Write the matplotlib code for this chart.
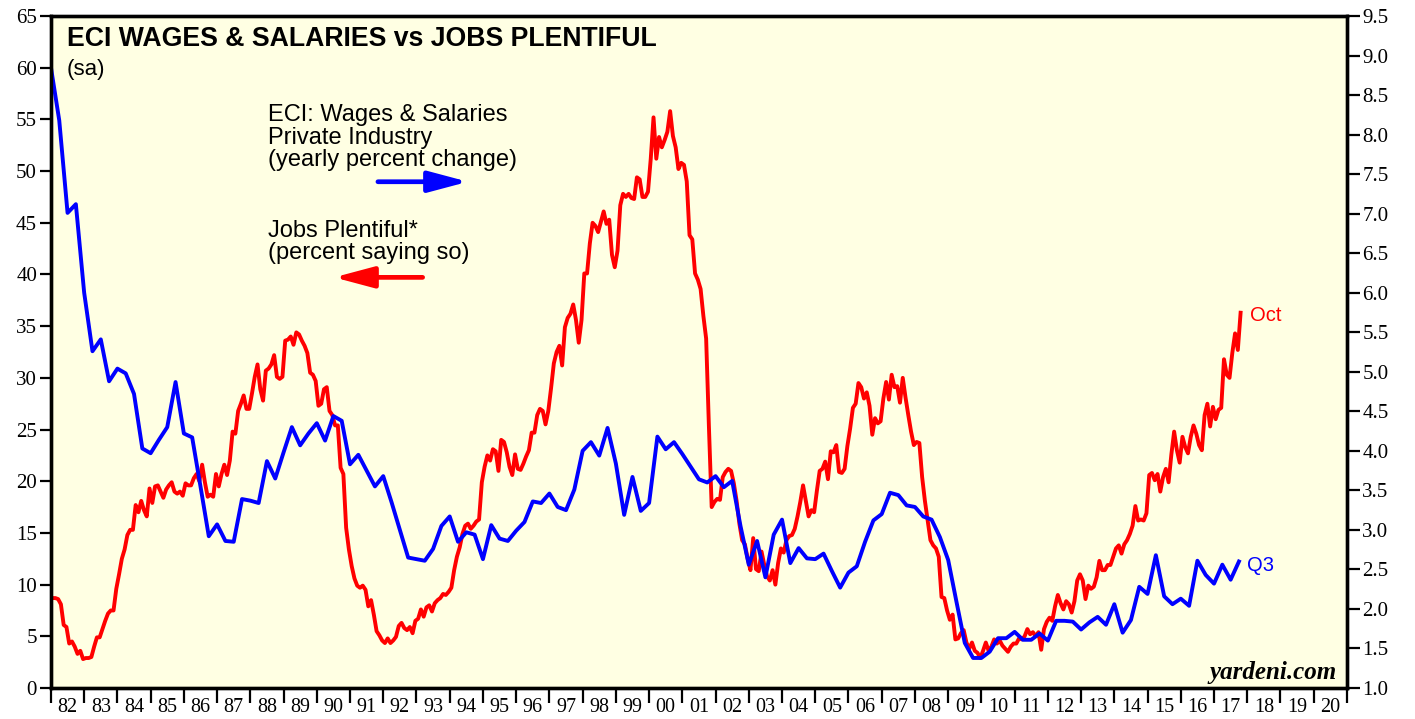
import numpy as np
import matplotlib.pyplot as plt

# Jobs Plentiful (percent saying so), monthly, Jan 1982 - Oct 2017
jobs_plentiful = [
    8.7, 8.7, 8.6, 8.1, 6.1, 5.9, 4.3, 4.5, 4.0, 3.3, 3.6, 2.8,          # 82
    2.9, 2.9, 3.0, 4.0, 4.9, 4.9, 5.7, 6.5, 7.2, 7.5, 7.5, 9.6,          # 83
    11.0, 12.5, 13.4, 14.8, 15.3, 15.3, 17.7, 17.0, 18.1, 17.2, 16.6, 19.3,  # 84
    17.9, 19.5, 19.6, 19.0, 18.4, 19.2, 19.6, 19.9, 19.0, 18.8, 19.0, 18.6,  # 85
    19.8, 19.6, 19.6, 20.3, 20.7, 20.0, 21.6, 19.9, 18.5, 18.7, 18.5, 20.7,  # 86
    19.5, 20.7, 21.6, 20.6, 22.0, 24.8, 24.6, 26.8, 27.5, 28.3, 27.0, 27.0,  # 87
    28.5, 30.1, 31.3, 28.9, 27.8, 30.7, 30.9, 31.3, 32.2, 30.1, 29.9, 30.1,  # 88
    33.6, 33.7, 34.0, 33.2, 34.4, 34.2, 33.6, 33.1, 32.4, 30.5, 30.3, 29.7,  # 89
    27.3, 27.5, 28.9, 29.1, 26.8, 26.4, 25.4, 25.4, 21.3, 20.7, 15.5, 13.4,  # 90
    11.8, 10.6, 9.9, 9.7, 9.9, 9.5, 7.9, 8.5, 7.1, 5.5, 5.1, 4.6,        # 91
    4.35, 4.8, 4.35, 4.6, 4.95, 6.0, 6.3, 5.8, 5.6, 5.9, 5.3, 6.5,       # 92
    6.7, 7.6, 6.9, 7.8, 8.0, 7.4, 8.2, 8.5, 8.7, 9.1, 9.0, 9.3,          # 93
    9.7, 11.4, 12.7, 13.6, 14.9, 15.7, 15.9, 15.4, 15.7, 16.1, 16.3, 19.9,   # 94
    21.4, 22.5, 22.0, 23.1, 22.9, 21.0, 24.0, 23.8, 22.8, 21.4, 20.6, 22.6,  # 95
    21.2, 21.1, 21.7, 22.4, 23.0, 24.7, 24.7, 26.4, 27.0, 26.8, 25.5, 26.8,  # 96
    29.0, 31.4, 32.5, 33.1, 31.2, 34.9, 35.8, 36.2, 37.1, 35.6, 33.4, 35.6,  # 97
    40.1, 40.1, 43.0, 45.0, 44.7, 44.1, 45.1, 46.1, 44.9, 45.3, 41.9, 40.7,  # 98
    42.3, 46.7, 47.8, 47.5, 47.8, 47.4, 47.3, 49.4, 49.2, 47.5, 47.5, 48.0,  # 99
    51.2, 55.2, 51.2, 53.3, 52.3, 53.0, 53.8, 55.8, 53.4, 52.3, 50.2, 50.8,  # 00
    50.6, 49.0, 43.8, 43.4, 40.1, 39.5, 38.6, 36.0, 33.8, 25.3, 17.5, 18.0,  # 01
    18.3, 18.2, 20.4, 20.9, 21.2, 21.0, 19.8, 18.1, 15.9, 14.3, 13.9, 12.5,  # 02
    11.4, 14.5, 11.5, 11.3, 13.2, 11.9, 10.8, 10.4, 11.4, 10.0, 12.1, 13.5,  # 03
    13.1, 14.3, 14.7, 14.8, 15.4, 16.6, 18.0, 19.6, 18.1, 16.6, 17.2, 17.0,  # 04
    19.1, 21.0, 21.2, 21.9, 20.2, 22.9, 22.8, 23.5, 20.9, 20.8, 21.2, 23.4,  # 05
    25.1, 27.1, 27.5, 29.5, 29.1, 28.0, 28.6, 27.3, 24.5, 26.1, 25.6, 25.8,  # 06
    28.0, 29.6, 27.9, 30.3, 29.1, 29.2, 27.6, 30.0, 28.1, 26.4, 24.8, 23.5,  # 07
    23.8, 23.7, 20.4, 18.1, 16.2, 14.3, 13.8, 13.5, 12.7, 8.8, 8.7, 7.5,     # 08
    6.6, 7.1, 4.7, 4.8, 5.3, 5.6, 4.4, 3.8, 4.4, 3.6, 3.4, 2.9,          # 09
    3.6, 4.4, 3.6, 4.0, 4.7, 4.3, 4.6, 4.1, 3.8, 3.5, 4.0, 4.3,          # 10
    4.3, 4.8, 4.7, 5.0, 5.7, 5.2, 5.4, 5.0, 5.4, 3.7, 5.7, 6.4,          # 11
    6.8, 6.5, 7.9, 9.0, 8.2, 7.6, 8.4, 8.1, 7.3, 8.4, 10.4, 11.0,        # 12
    10.4, 8.6, 9.9, 9.6, 9.8, 10.7, 12.3, 11.4, 11.4, 11.9, 11.9, 12.7,  # 13
    13.5, 13.8, 13.0, 13.9, 14.3, 14.9, 15.7, 17.6, 16.2, 16.3, 16.2, 16.9,  # 14
    20.6, 20.8, 20.1, 20.7, 19.0, 20.4, 21.2, 19.9, 22.6, 24.8, 23.0, 21.8,  # 15
    24.3, 23.3, 22.7, 24.3, 25.4, 24.6, 23.5, 23.0, 26.4, 27.5, 25.3, 27.2,  # 16
    26.0, 26.9, 27.1, 31.8, 30.3, 30.0, 32.4, 34.3, 32.7, 36.3,              # 17
]

# ECI wages & salaries, private industry (yearly % change), quarterly through Q3 2017
eci_wages = [
    8.85, 8.18, 7.01, 7.12,  # 82
    6.00, 5.26, 5.41, 4.88,  # 83
    5.04, 4.98, 4.72, 4.03,  # 84
    3.97, 4.14, 4.30, 4.87,  # 85
    4.22, 4.17, 3.55, 2.92,  # 86
    3.07, 2.86, 2.85, 3.39,  # 87
    3.37, 3.34, 3.87, 3.65,  # 88
    3.98, 4.30, 4.07, 4.22,  # 89
    4.35, 4.13, 4.44, 4.38,  # 90
    3.83, 3.95, 3.75, 3.55,  # 91
    3.68, 3.35, 3.00, 2.65,  # 92
    2.63, 2.61, 2.76, 3.05,  # 93
    3.17, 2.85, 2.97, 2.94,  # 94
    2.63, 3.06, 2.89, 2.86,  # 95
    2.99, 3.10, 3.36, 3.34,  # 96
    3.46, 3.29, 3.25, 3.51,  # 97
    4.00, 4.11, 3.94, 4.29,  # 98
    3.84, 3.19, 3.67, 3.24,  # 99
    3.34, 4.18, 4.02, 4.11,  # 00
    3.96, 3.80, 3.64, 3.60,  # 01
    3.68, 3.54, 3.62, 3.05,  # 02
    2.56, 2.86, 2.40, 2.94,  # 03
    3.13, 2.58, 2.77, 2.64,  # 04
    2.63, 2.70, 2.48, 2.27,  # 05
    2.46, 2.54, 2.85, 3.12,  # 06
    3.20, 3.47, 3.44, 3.31,  # 07
    3.29, 3.17, 3.13, 2.91,  # 08
    2.62, 2.09, 1.57, 1.38,  # 09
    1.38, 1.46, 1.63, 1.63,  # 10
    1.71, 1.61, 1.61, 1.69,  # 11
    1.60, 1.85, 1.85, 1.84,  # 12
    1.74, 1.83, 1.90, 1.80,  # 13
    2.06, 1.70, 1.86, 2.28,  # 14
    2.19, 2.68, 2.16, 2.06,  # 15
    2.13, 2.04, 2.61, 2.43,  # 16
    2.32, 2.56, 2.37, 2.60,  # 17
]

years = list(range(1982, 2021))
year_labels = [str(y)[-2:] for y in years]
left_ticks = list(range(0, 66, 5))
right_ticks = [1.0 + 0.5 * i for i in range(18)]

jobs_x = 1982 + np.arange(len(jobs_plentiful)) / 12 + 0.05
eci_x = 1982 + np.arange(len(eci_wages)) / 4

plt.rcParams['font.family'] = 'Liberation Sans'
serif = 'Liberation Serif'

fig = plt.figure(figsize=(14.15, 7.19), dpi=100)
ax = fig.add_axes([0.036, 0.0431, 0.9159, 0.9346])
ax.set_facecolor('#FFFFE3')

ax.plot(jobs_x, jobs_plentiful, color='#FF0000', lw=2.8)
ax2 = ax.twinx()
ax2.plot(eci_x, eci_wages, color='#0000FF', lw=2.8)

ax.set_xlim(1982, 2021)
ax.set_ylim(0, 65)
ax2.set_ylim(1.0, 9.5)

ax.set_xticks(years + [2021])
ax.set_xticklabels([])
ax.set_xticks([y + 0.5 for y in years], year_labels, minor=True,
              fontfamily=serif, fontsize=14.5)
ax.tick_params(axis='x', which='major', direction='out', length=11, width=1.6)
ax.tick_params(axis='x', which='minor', length=0, pad=7)

ax.set_yticks(left_ticks, [str(v) for v in left_ticks], fontfamily=serif, fontsize=15)
ax.tick_params(axis='y', direction='out', length=8, width=1.6, pad=2)
ax2.set_yticks(right_ticks, ['%.1f' % v for v in right_ticks], fontfamily=serif, fontsize=15)
ax2.tick_params(axis='y', direction='out', length=9, width=1.6, pad=2)

for a in (ax, ax2):
    for s in a.spines.values():
        s.set_linewidth(2.4)

tr = ax.transAxes
ax.text(0.0123, 0.9554, 'ECI WAGES & SALARIES vs JOBS PLENTIFUL', transform=tr,
        fontsize=19.2, fontweight='bold', va='baseline')
ax.text(0.0123, 0.9122, '(sa)', transform=tr, fontsize=16, va='baseline')

ax.text(0.1674, 0.8438, 'ECI: Wages & Salaries', transform=tr, fontsize=17, va='baseline')
ax.text(0.1674, 0.8100, 'Private Industry', transform=tr, fontsize=17, va='baseline')
ax.text(0.1674, 0.7770, '(yearly percent change)', transform=tr, fontsize=17, va='baseline')
ax.annotate('', xy=(0.3218, 0.7534), xytext=(0.2523, 0.7534), xycoords='axes fraction',
            arrowprops=dict(arrowstyle='-|>,head_length=1.2,head_width=0.32', color='#0000FF',
                            lw=3.4, shrinkA=0, shrinkB=0, mutation_scale=20))

ax.text(0.1674, 0.6716, 'Jobs Plentiful*', transform=tr, fontsize=17, va='baseline')
ax.text(0.1674, 0.6380, '(percent saying so)', transform=tr, fontsize=17, va='baseline')
ax.annotate('', xy=(0.2184, 0.6111), xytext=(0.2868, 0.6111), xycoords='axes fraction',
            arrowprops=dict(arrowstyle='-|>,head_length=1.2,head_width=0.32', color='#FF0000',
                            lw=3.4, shrinkA=0, shrinkB=0, mutation_scale=20))

ax.text(0.925, 0.546, 'Oct', transform=tr, fontsize=14.5, color='#FF0000', va='baseline')
ax.text(0.9228, 0.174, 'Q3', transform=tr, fontsize=14.5, color='#0000FF', va='baseline')
ax.text(0.992, 0.0134, 'yardeni.com', transform=tr, fontsize=18, fontfamily=serif,
        fontweight='bold', fontstyle='italic', ha='right', va='baseline')

fig.savefig('out.png', dpi=100)
